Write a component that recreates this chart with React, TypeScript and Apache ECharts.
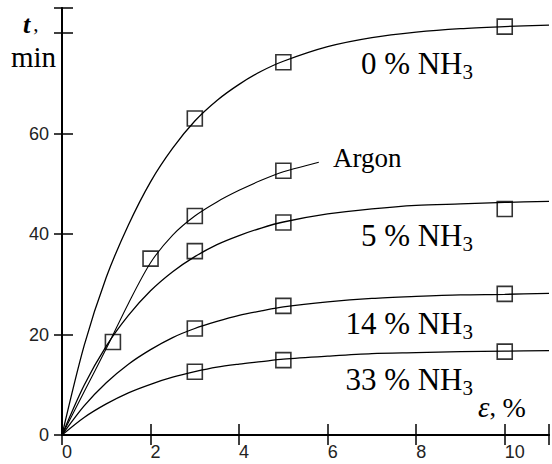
import React, { useEffect, useRef } from "react";
import * as echarts from "echarts";

// Curves (x = ε %, y = t min)
const curveX = [0, 0.5, 1, 1.5, 2, 2.5, 3, 3.5, 4, 4.5, 5, 6, 7, 8, 9, 10, 11];
const curve0 = [0, 17.8, 31.4, 41.8, 50.4, 57.1, 62.5, 66.6, 69.8, 72.4, 74.4, 77.3, 79.1, 80.2, 80.9, 81.3, 81.6];
const curve5 = [0, 9.9, 17.7, 23.8, 28.7, 32.5, 35.5, 37.9, 39.7, 41.2, 42.4, 44.0, 45.0, 45.7, 46.0, 46.3, 46.5];
const curve14 = [0, 5.8, 10.4, 14.1, 17.0, 19.4, 21.2, 22.6, 23.8, 24.7, 25.5, 26.5, 27.2, 27.6, 27.9, 28.0, 28.2];
const curve33 = [0, 3.5, 6.2, 8.4, 10.1, 11.5, 12.6, 13.5, 14.1, 14.6, 15.1, 15.7, 16.2, 16.4, 16.6, 16.7, 16.8];
const argonX = [0, 0.5, 1, 1.5, 2, 2.5, 3, 3.5, 4, 4.5, 5, 5.5, 5.8];
const argonY = [0, 8.6, 17.2, 26.2, 34.3, 39.8, 43.6, 46.4, 48.7, 50.7, 52.4, 53.6, 54.3];

// Measured points
const pts0X = [3, 5, 10];
const pts0Y = [63, 74.2, 81.3];
const ptsArX = [1.15, 2, 3, 5];
const ptsArY = [18.5, 35.1, 43.6, 52.6];
const pts5X = [3, 5, 10];
const pts5Y = [36.6, 42.3, 45];
const pts14X = [3, 5, 10];
const pts14Y = [21.2, 25.7, 28.1];
const pts33X = [3, 5, 10];
const pts33Y = [12.6, 14.9, 16.6];

const xTicks = [0, 2, 4, 6, 8, 10];
const yTicks = [0, 20, 40, 60];

const SERIF = '"Liberation Serif", "Times New Roman", serif';
const SANS = '"Liberation Sans", Arial, sans-serif';

const zip = (xs: number[], ys: number[]) => xs.map((x, i) => [x, ys[i]]);

export default function App() {
  const ref = useRef<HTMLDivElement>(null);
  useEffect(() => {
    if (!ref.current) return;
    const chart = echarts.init(ref.current, undefined, { renderer: "svg" });
    const lineSeries = (data: number[][], w = 1.3) => ({
      type: "line",
      data,
      smooth: 0.3,
      showSymbol: false,
      symbol: "none",
      lineStyle: { color: "#000", width: w },
      silent: true,
      z: 2,
    });
    const ptSeries = (data: number[][]) => ({
      type: "scatter",
      data,
      symbol: "rect",
      symbolSize: 15,
      itemStyle: { color: "rgba(0,0,0,0)", borderColor: "#000", borderWidth: 1.6 },
      silent: true,
      z: 3,
    });
    const subLabel = (main: string, x: number, y: number) => ({
      type: "text",
      x,
      y,
      style: {
        text: `{m|${main}}{s|3}`,
        align: "right",
        verticalAlign: "bottom",
        fill: "#000",
        rich: {
          m: { fontFamily: SERIF, fontSize: 31, lineHeight: 31, padding: [0, 0, 3, 0], verticalAlign: "bottom", fill: "#000" },
          s: { fontFamily: SERIF, fontSize: 21, lineHeight: 21, verticalAlign: "bottom", fill: "#000" },
        },
      },
    });
    chart.setOption({
      animation: false,
      backgroundColor: "#fff",
      grid: { left: 62, right: -5, top: 8, bottom: 29 },
      xAxis: [
        {
          type: "value",
          min: 0,
          max: 11,
          interval: 2,
          position: "bottom",
          axisLine: { lineStyle: { color: "#000", width: 2 } },
          axisTick: { inside: true, length: 11, lineStyle: { color: "#000", width: 1.5 } },
          axisLabel: {
            formatter: (v: number) => (xTicks.includes(v) ? String(v) : ""),
            align: "left",
            margin: 8,
            color: "#222",
            fontFamily: SANS,
            fontSize: 18,
          },
          splitLine: { show: false },
        },
        {
          type: "value",
          min: 0,
          max: 11,
          interval: 2,
          position: "top",
          axisLine: { lineStyle: { color: "#000", width: 1.5 } },
          axisTick: { inside: true, length: 10, lineStyle: { color: "#000", width: 1.5 } },
          axisLabel: { show: false },
          splitLine: { show: false },
        },
      ],
      yAxis: [
        {
          type: "value",
          min: 0,
          max: 85,
          interval: 20,
          position: "left",
          axisLine: { show: true, lineStyle: { color: "#000", width: 2 } },
          axisTick: { show: true, inside: true, length: 11, lineStyle: { color: "#000", width: 1.5 } },
          axisLabel: {
            formatter: (v: number) => (yTicks.includes(v) ? String(v) : ""),
            margin: 13,
            color: "#222",
            fontFamily: SANS,
            fontSize: 18,
          },
          splitLine: { show: false },
        },
        {
          type: "value",
          min: 0,
          max: 85,
          interval: 20,
          position: "right",
          axisLine: { show: true, lineStyle: { color: "#000", width: 1.5 } },
          axisTick: { show: true, inside: true, length: 8, lineStyle: { color: "#000", width: 1.5 } },
          axisLabel: { show: false },
          splitLine: { show: false },
        },
      ],
      series: [
        lineSeries(zip(curveX, curve0)),
        lineSeries(zip(argonX, argonY), 1.1),
        lineSeries(zip(curveX, curve5)),
        lineSeries(zip(curveX, curve14)),
        lineSeries(zip(curveX, curve33)),
        ptSeries(zip(pts0X, pts0Y)),
        ptSeries(zip(ptsArX, ptsArY)),
        ptSeries(zip(pts5X, pts5Y)),
        ptSeries(zip(pts14X, pts14Y)),
        ptSeries(zip(pts33X, pts33Y)),
      ],
      graphic: [
        subLabel("0 % NH", 473, 82),
        subLabel("5 % NH", 473, 254),
        subLabel("14 % NH", 473, 342),
        subLabel("33 % NH", 473, 398),
        {
          type: "text",
          x: 333,
          y: 158,
          style: { text: "Argon", font: `27px ${SERIF}`, fill: "#000", align: "left", verticalAlign: "middle" },
        },
        {
          type: "text",
          x: 23,
          y: 24,
          style: {
            text: "{t|t}{c|,}",
            verticalAlign: "middle",
            align: "left",
            rich: {
              t: { fontFamily: SERIF, fontSize: 26, lineHeight: 20, fontStyle: "italic", fontWeight: "bold", fill: "#000", padding: [0, 3, 0, 0] },
              c: { fontFamily: SERIF, fontSize: 21, lineHeight: 20, fill: "#000" },
            },
          },
        },
        {
          type: "text",
          x: 11,
          y: 57,
          style: { text: "min", font: `29px ${SERIF}`, lineHeight: 22, fill: "#000", align: "left", verticalAlign: "middle" },
        },
        {
          type: "text",
          x: 478,
          y: 407,
          style: {
            text: "{e|ε}{c|, }{p|%}",
            verticalAlign: "middle",
            align: "left",
            rich: {
              e: { fontFamily: SERIF, fontSize: 29, fontStyle: "italic", fill: "#000" },
              c: { fontFamily: SERIF, fontSize: 26, fill: "#000" },
              p: { fontFamily: SERIF, fontSize: 28, fill: "#000" },
            },
          },
        },
      ],
    });
    return () => chart.dispose();
  }, []);
  return (
    <div
      ref={ref}
      style={{ position: "fixed", left: 0, top: 0, width: 552, height: 464, background: "#fff" }}
    />
  );
}
